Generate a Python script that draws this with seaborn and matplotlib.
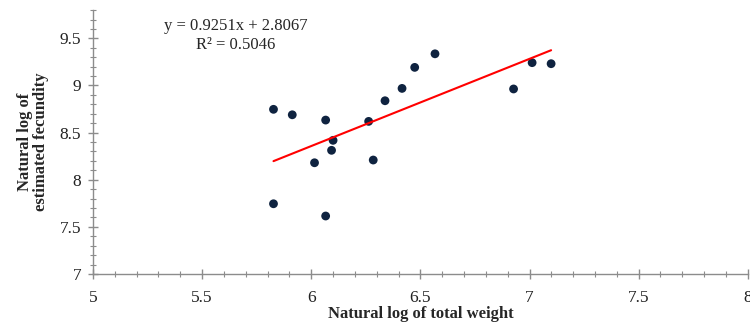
import numpy as np
import pandas as pd
import seaborn as sns
import matplotlib
matplotlib.use('Agg')
import matplotlib.pyplot as plt
from matplotlib.ticker import MultipleLocator

# Data.
log_weight = [5.827, 5.913, 6.066, 6.263, 6.100, 6.093, 6.015, 6.284, 5.827,
              6.066, 6.567, 6.474, 6.416, 6.338, 7.012, 7.099, 6.927]
log_fecundity = [8.747, 8.689, 8.633, 8.619, 8.418, 8.312, 8.180, 8.209, 7.745,
                 7.615, 9.336, 9.192, 8.969, 8.838, 9.242, 9.231, 8.963]
slope = 0.9251
intercept = 2.8067
r_squared = 0.5046

df = pd.DataFrame({'x': log_weight, 'y': log_fecundity})
x_fit = np.array([min(log_weight), max(log_weight)])
fit = pd.DataFrame({'x': x_fit, 'y': slope * x_fit + intercept})

sns.set_theme(style='white')
plt.rcParams['font.family'] = ['Liberation Serif', 'DejaVu Serif']

fig = plt.figure(figsize=(7.5, 3.25), dpi=100)
ax = fig.add_axes([0.124, 0.157, 0.873, 0.812])

sns.lineplot(x='x', y='y', data=fit, color='#ff0000', linewidth=1.5, ax=ax)
sns.scatterplot(x='x', y='y', data=df, color='#0f2340', s=40, edgecolor='none', ax=ax)

ax.set_xlim(5, 8)
ax.set_ylim(7, 9.8)
ax.xaxis.set_minor_locator(MultipleLocator(0.1))
ax.yaxis.set_minor_locator(MultipleLocator(0.1))
ax.set_xticks([5, 5.5, 6, 6.5, 7, 7.5, 8])
ax.set_xticklabels(['5', '5.5', '6', '6.5', '7', '7.5', '8'])
ax.set_yticks([7, 7.5, 8, 8.5, 9, 9.5])
ax.set_yticklabels(['7', '7.5', '8', '8.5', '9', '9.5'])

for side in ['top', 'right']:
    ax.spines[side].set_visible(False)
for side in ['left', 'bottom']:
    ax.spines[side].set_color('#8c8c8c')
    ax.spines[side].set_linewidth(1.0)

ax.tick_params(which='major', direction='inout', length=7, width=1.0, color='#8c8c8c',
               labelsize=12.5, labelcolor='#222222')
ax.tick_params(which='minor', direction='inout', length=5, width=0.8, color='#8c8c8c')
ax.tick_params(axis='y', which='major', pad=5)
ax.tick_params(axis='x', which='major', pad=8)
ax.tick_params(which='both', left=True, bottom=True)

ax.set_xlabel('Natural log of total weight', fontsize=12, fontweight='bold', labelpad=0)
ax.set_ylabel('Natural log of\nestimated fecundity', fontsize=12, fontweight='bold',
              labelpad=8, linespacing=1.0)

ax.text(5.655, 9.63, f'y = {slope}x + {intercept}', fontsize=12, ha='center', va='center')
ax.text(5.655, 9.43, f'R² = {r_squared}', fontsize=12, ha='center', va='center')

fig.savefig('out.png', dpi=100)
